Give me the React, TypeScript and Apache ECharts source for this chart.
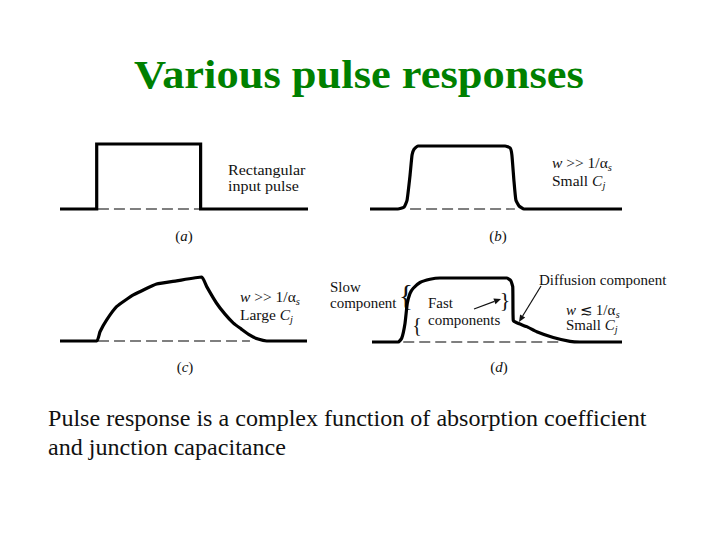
import React, { useEffect, useRef } from "react";
import * as echarts from "echarts";

// time (0..100 across each panel), amplitude (0 baseline .. 1 top)
const pulseA: number[][] = [[0, 0], [14.8, 0], [14.8, 1], [56.7, 1], [56.7, 0], [100, 0]];
const pulseB: number[][] = [
  [0, 0], [11.1, 0], [13.5, 0.03], [14.7, 0.14], [15.9, 0.54], [16.7, 0.86], [17.5, 0.95], [19.0, 1],
  [53.6, 1], [55.6, 0.97], [56.3, 0.86], [57.1, 0.46], [57.9, 0.14], [59.1, 0.05], [61.1, 0], [100, 0],
];
const pulseC: number[][] = [
  [0, 0], [14.9, 0], [16.2, 0.145], [18.9, 0.33], [23.0, 0.54], [29.7, 0.72], [39.1, 0.89], [47.2, 0.94],
  [57.4, 1.0], [59.4, 0.85], [63.4, 0.59], [66.8, 0.42], [70.2, 0.28], [73.3, 0.19], [76.9, 0.09],
  [80.2, 0.03], [83.7, 0], [100, 0],
];
const pulseD: number[][] = [
  [0, 0], [10.5, 0], [11.9, 0.06], [13.2, 0.29], [14.1, 0.6], [15.2, 0.76], [16.5, 0.84], [19.2, 0.93],
  [23.2, 0.98], [27.2, 1.0], [53.9, 1], [55.5, 0.96], [56.3, 0.86], [56.5, 0.34], [57.9, 0.3],
  [61.9, 0.24], [65.9, 0.16], [72.5, 0.07], [79.2, 0.01], [83.2, 0], [100, 0],
];
const baseA: number[][] = [[15.3, 0], [56.5, 0]];
const baseB: number[][] = [[15.9, 0], [57.5, 0]];
const baseC: number[][] = [[15.4, 0], [76.9, 0]];
const baseD: number[][] = [[12.5, 0], [75.2, 0]];

const panelLabels = ["a", "b", "c", "d"];
const titleText = "Various pulse responses";
const captionLines = [
  "Pulse response is a complex function of absorption coefficient",
  "and junction capacitance",
];

const SERIF = "'Liberation Serif', 'DejaVu Serif', serif";
const SX = 1.07; // horizontal stretch of the slide's text

let ctx: CanvasRenderingContext2D | null = null;
function measure(text: string, size: number, italic: boolean, bold = false) {
  if (!ctx) ctx = document.createElement("canvas").getContext("2d");
  if (!ctx) return text.length * size * 0.5;
  ctx.font = `${italic ? "italic " : ""}${bold ? "bold " : ""}${size}px ${SERIF}`;
  return ctx.measureText(text).width;
}

function txt(x: number, y: number, text: string, size: number, extra: any = {}) {
  const align = extra.align || "left";
  return {
    type: "text",
    x,
    y,
    scaleX: extra.scaleX ?? SX,
    style: {
      text,
      fontSize: size,
      fontFamily: SERIF,
      fill: extra.fill || "#111",
      align,
      verticalAlign: "middle",
      textAlign: align,
      textVerticalAlign: "middle",
      fontWeight: extra.fontWeight || "normal",
      fontStyle: extra.fontStyle || "normal",
    },
  };
}

// segments: [text, kind] kind: "n" normal, "i" italic, "s" italic subscript
function seq(x: number, y: number, size: number, segs: [string, string][]) {
  const out: any[] = [];
  let cx = x;
  segs.forEach(([t, k]) => {
    const italic = k !== "n";
    const s = k === "s" ? size * 0.68 : size;
    const dy = k === "s" ? size * 0.32 : 0;
    out.push(txt(cx, y + dy, t, s, { fontStyle: italic ? "italic" : "normal" }));
    cx += measure(t, s, italic) * SX;
  });
  return out;
}

function arrow(x1: number, y1: number, x2: number, y2: number) {
  const ang = Math.atan2(y2 - y1, x2 - x1);
  const L = 7, W = 3;
  const bx = x2 - L * Math.cos(ang), by = y2 - L * Math.sin(ang);
  const px = -Math.sin(ang) * W, py = Math.cos(ang) * W;
  return [
    { type: "line", shape: { x1, y1, x2: bx, y2: by }, style: { stroke: "#111", lineWidth: 1.2 } },
    {
      type: "polygon",
      shape: { points: [[x2, y2], [bx + px, by + py], [bx - px, by - py]] },
      style: { fill: "#111" },
    },
  ];
}

export default function App() {
  const ref = useRef<HTMLDivElement>(null);
  useEffect(() => {
    if (!ref.current) return;
    const chart = echarts.init(ref.current, null, { renderer: "svg" });
    const grids = [
      { left: 60, top: 144, width: 248, height: 65 },
      { left: 370, top: 146, width: 252, height: 63 },
      { left: 60, top: 277, width: 247, height: 64 },
      { left: 372, top: 278, width: 250, height: 64 },
    ];
    const pulses = [pulseA, pulseB, pulseC, pulseD];
    const bases = [baseA, baseB, baseC, baseD];
    const series: any[] = [];
    pulses.forEach((p, i) => {
      series.push({
        type: "line",
        xAxisIndex: i,
        yAxisIndex: i,
        data: bases[i],
        symbol: "none",
        clip: false,
        lineStyle: { color: "#555", width: 1.4, type: [11, 5] },
        z: 1,
      });
      series.push({
        type: "line",
        xAxisIndex: i,
        yAxisIndex: i,
        data: p,
        symbol: "none",
        clip: false,
        smooth: i === 0 ? false : 0.15,
        lineStyle: { color: "#000", width: 3.2, join: i === 0 ? "miter" : "round", cap: "butt" },
        z: 2,
      });
    });

    const graphics: any[] = [
      txt(359, 74, titleText, 41, { align: "center", fontWeight: "bold", fill: "#008000", scaleX: 1.085 }),
      txt(48, 418, captionLines[0], 22.5),
      txt(48, 447, captionLines[1], 22.5),
      // (a)
      txt(228, 170, "Rectangular", 15),
      txt(228, 186, "input pulse", 15),
      // (b)
      ...seq(552, 163, 14.5, [["w", "i"], [" >> 1/α", "n"], ["s", "s"]]),
      ...seq(552, 181, 14.5, [["Small ", "n"], ["C", "i"], ["j", "s"]]),
      // (c)
      ...seq(240, 297, 14.5, [["w", "i"], [" >> 1/α", "n"], ["s", "s"]]),
      ...seq(240, 315, 14.5, [["Large ", "n"], ["C", "i"], ["j", "s"]]),
      // (d)
      txt(330, 287, "Slow", 14),
      txt(330, 303, "component", 14),
      txt(406, 294, "{", 30, { align: "center", scaleX: 1 }),
      txt(417, 325, "{", 20, { align: "center", scaleX: 1 }),
      txt(505, 299, "}", 22, { align: "center", scaleX: 1 }),
      txt(428, 303, "Fast", 14),
      txt(428, 320, "components", 14),
      txt(539, 280, "Diffusion component", 14),
      ...seq(566, 310, 14, [["w", "i"], [" ≲ 1/α", "n"], ["s", "s"]]),
      ...seq(566, 325, 14, [["Small ", "n"], ["C", "i"], ["j", "s"]]),
      ...arrow(474, 309, 501, 299),
      ...arrow(541, 286, 519, 322),
    ];
    const labelPos = [[184, 236], [498, 236], [185, 367], [499, 367]];
    panelLabels.forEach((l, i) => {
      const [x, y] = labelPos[i];
      const w1 = measure("(", 14, false) * SX, w2 = measure(l, 14, true) * SX;
      const w3 = measure(")", 14, false) * SX;
      const x0 = x - (w1 + w2 + w3) / 2;
      graphics.push(txt(x0, y, "(", 14));
      graphics.push(txt(x0 + w1, y, l, 14, { fontStyle: "italic" }));
      graphics.push(txt(x0 + w1 + w2, y, ")", 14));
    });

    chart.setOption({
      animation: false,
      backgroundColor: "#fff",
      grid: grids,
      xAxis: grids.map((_, i) => ({ type: "value", gridIndex: i, min: 0, max: 100, show: false })),
      yAxis: grids.map((_, i) => ({ type: "value", gridIndex: i, min: 0, max: 1, show: false })),
      series,
      graphic: { elements: graphics },
    });
    return () => chart.dispose();
  }, []);
  return (
    <div
      ref={ref}
      style={{ position: "absolute", left: 0, top: 0, width: 720, height: 540, background: "#fff" }}
    />
  );
}
